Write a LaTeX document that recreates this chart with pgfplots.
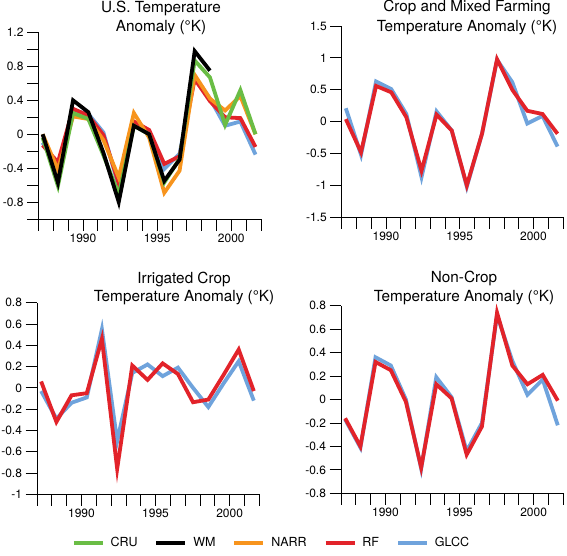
\documentclass[border=0pt]{standalone}
\usepackage{fontspec}
\setmainfont{TeX Gyre Heros}
\usepackage{pgfplots}
\usepackage{pgfplotstable}
\pgfplotsset{compat=1.18}
\definecolor{cru}{RGB}{106,189,69}
\definecolor{narr}{RGB}{247,148,29}
\definecolor{rf}{RGB}{226,35,42}
\definecolor{glcc}{RGB}{111,163,220}

% x = plotted position of each yearly value (1987..2001)
\pgfplotstableread{
x       cru    wm     narr   rf     glcc
1987.28 -0.04  0.00   0.00  -0.13  -0.10
1988.31 -0.61 -0.57  -0.42  -0.33  -0.42
1989.33  0.25  0.40   0.21   0.30   0.28
1990.36  0.18  0.26   0.18   0.22   0.24
1991.38 -0.25 -0.22  -0.07  -0.01   0.02
1992.41 -0.71 -0.80  -0.51  -0.58  -0.62
1993.43  0.10  0.10   0.25   0.15   0.14
1994.46  0.00  0.00  -0.04   0.05   0.04
1995.48 -0.57 -0.55  -0.69  -0.35  -0.41
1996.51 -0.29 -0.30  -0.43  -0.26  -0.23
1997.53  0.87  0.98   0.70   0.65   0.68
1998.56  0.67  0.75   0.42   0.39   0.42
1999.58  0.11  nan    0.28   0.20   0.10
2000.61  0.52  nan    0.45   0.19   0.15
2001.63  0.00  nan    0.00  -0.15  -0.24
}\tabUS

\pgfplotstableread{
x       rf     glcc
1987.28  0.04   0.21
1988.31 -0.48  -0.52
1989.33  0.56   0.63
1990.36  0.46   0.51
1991.38  0.07   0.12
1992.41 -0.77  -0.87
1993.43  0.11   0.16
1994.46 -0.14  -0.14
1995.48 -1.00  -1.02
1996.51 -0.19  -0.19
1997.53  0.98   0.97
1998.56  0.50   0.62
1999.58  0.17  -0.03
2000.61  0.12   0.09
2001.63 -0.19  -0.39
}\tabCrop

\pgfplotstableread{
x       rf     glcc
1987.28  0.06  -0.03
1988.31 -0.32  -0.29
1989.33 -0.07  -0.14
1990.36 -0.05  -0.09
1991.38  0.46   0.55
1992.41 -0.76  -0.50
1993.43  0.21   0.14
1994.46  0.075  0.22
1995.48  0.23   0.11
1996.51  0.13   0.19
1997.53 -0.135  0.00
1998.56 -0.11  -0.18
1999.58  0.12   0.04
2000.61  0.36   0.25
2001.63 -0.03  -0.12
}\tabIrr

\pgfplotstableread{
x       rf     glcc
1987.28 -0.16  -0.17
1988.31 -0.40  -0.41
1989.33  0.32   0.36
1990.36  0.25   0.29
1991.38 -0.02   0.00
1992.41 -0.58  -0.59
1993.43  0.13   0.19
1994.46  0.01   0.02
1995.48 -0.47  -0.44
1996.51 -0.23  -0.20
1997.53  0.74   0.72
1998.56  0.29   0.33
1999.58  0.13   0.04
2000.61  0.21   0.17
2001.63 -0.01  -0.22
}\tabNon

\pgfplotsset{
  panel/.style={
    scale only axis, anchor=south west,
    xmin=1987, xmax=2002,
    axis x line*=bottom, axis y line*=left,
    axis line style={line width=0.8pt,-},
    tick align=outside, major tick length=11.5pt, minor tick length=11.5pt,
    every tick/.style={black, line width=0.8pt},
    xtick={1987,...,2002},
    xticklabels={,,,1990,,,,,1995,,,,,2000,,},
    ticklabel style={font=\fontsize{12}{14}\selectfont},
    /pgf/number format/assume math mode=true,
    clip=false,
    every axis plot/.append style={line width=3.8pt, line join=miter},
  },
}
\tikzset{ttl/.style={anchor=base, font=\fontsize{15.3}{19}\selectfont}}

\begin{document}
\begin{tikzpicture}
\useasboundingbox (0pt,0pt) rectangle (567pt,555pt);

% Panel 1: U.S.
\begin{axis}[panel, at={(38.5pt,336pt)}, width=222.5pt, height=186.5pt,
  ymin=-1, ymax=1.2,
  ytick={-0.8,-0.4,0,0.4,0.8,1.2},
  minor ytick={-1,-0.6,-0.2,0.2,0.6,1},
  legend columns=5,
  legend style={at={(1.0427,-1.7373)}, anchor=center, draw=none, fill=none,
    font=\fontsize{12.5}{14}\selectfont,
    nodes={inner sep=0pt},
    /tikz/every odd column/.append style={column sep=6pt},
    /tikz/every even column/.append style={column sep=17pt}},
  legend image code/.code={\draw[#1,line width=3.8pt] (0pt,0pt) -- (29pt,0pt);},
]
\addlegendimage{color=cru}\addlegendentry{CRU}
\addlegendimage{color=black}\addlegendentry{WM}
\addlegendimage{color=narr}\addlegendentry{NARR}
\addlegendimage{color=rf}\addlegendentry{RF}
\addlegendimage{color=glcc}\addlegendentry{GLCC}
\addplot[glcc, forget plot] table[x=x, y=glcc] {\tabUS};
\addplot[rf, forget plot] table[x=x, y=rf] {\tabUS};
\addplot[narr, forget plot] table[x=x, y=narr] {\tabUS};
\addplot[cru, forget plot] table[x=x, y=cru] {\tabUS};
\addplot[black, forget plot] table[x=x, y=wm] {\tabUS};
\end{axis}

% Panel 2: Crop and Mixed Farming
\begin{axis}[panel, at={(341.7pt,337.7pt)}, width=221.3pt, height=191.3pt,
  ymin=-1.5, ymax=1.5,
  ytick={-1.5,-1,-0.5,0,0.5,1,1.5},
]
\addplot[glcc] table[x=x, y=glcc] {\tabCrop};
\addplot[rf] table[x=x, y=rf] {\tabCrop};
\end{axis}

% Panel 3: Irrigated Crop
\begin{axis}[panel, at={(37pt,60.7pt)}, width=222.3pt, height=191.6pt,
  ymin=-1, ymax=0.8,
  ytick={-1,-0.8,-0.6,-0.4,-0.2,0,0.2,0.4,0.6,0.8},
]
\addplot[glcc] table[x=x, y=glcc] {\tabIrr};
\addplot[rf] table[x=x, y=rf] {\tabIrr};
\end{axis}

% Panel 4: Non-Crop
\begin{axis}[panel, at={(341pt,61.7pt)}, width=222.3pt, height=187.6pt,
  ymin=-0.8, ymax=0.8,
  ytick={-0.8,-0.6,-0.4,-0.2,0,0.2,0.4,0.6,0.8},
]
\addplot[glcc] table[x=x, y=glcc] {\tabNon};
\addplot[rf] table[x=x, y=rf] {\tabNon};
\end{axis}

\node[ttl] at (161pt,542.3pt) {U.S. Temperature};
\node[ttl] at (161pt,523.3pt) {Anomaly (°K)};
\node[ttl] at (467pt,543pt) {Crop and Mixed Farming};
\node[ttl] at (467pt,523.5pt) {Temperature Anomaly (°K)};
\node[ttl] at (184pt,271.7pt) {Irrigated Crop};
\node[ttl] at (184pt,253.3pt) {Temperature Anomaly (°K)};
\node[ttl] at (464pt,272.7pt) {Non-Crop};
\node[ttl] at (464pt,254pt) {Temperature Anomaly (°K)};
\end{tikzpicture}
\end{document}
